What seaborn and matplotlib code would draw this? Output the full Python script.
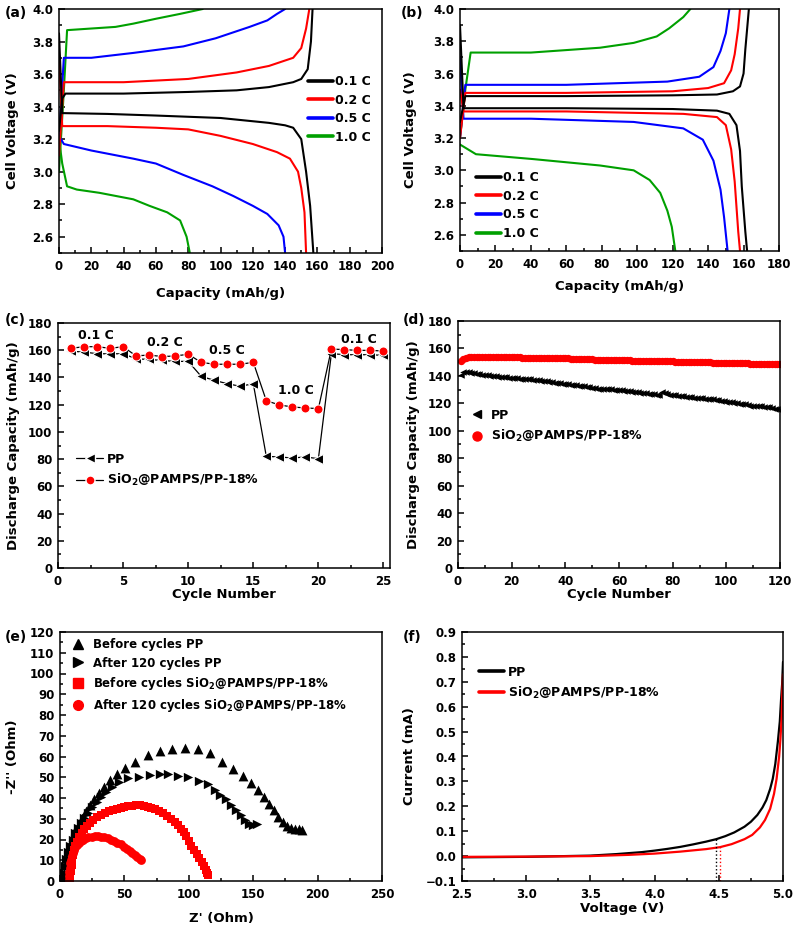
import matplotlib
matplotlib.use("Agg")
import matplotlib.pyplot as plt
from matplotlib.ticker import MultipleLocator
from matplotlib.lines import Line2D
import seaborn as sns

# ---------------- data ----------------
# (a) PP cell charge/discharge curves (capacity mAh/g, voltage V)
A01_CH_X = [0, 2, 4, 40, 80, 110, 130, 145, 150, 154, 156, 157]
A01_CH_Y = [3.25, 3.45, 3.48, 3.48, 3.49, 3.50, 3.52, 3.55, 3.57, 3.63, 3.8, 4.0]
A01_DC_X = [0, 2, 30, 60, 100, 130, 140, 145, 150, 153, 155.5, 157.5]
A01_DC_Y = [3.85, 3.36, 3.355, 3.345, 3.33, 3.30, 3.285, 3.27, 3.20, 3.0, 2.79, 2.5]
A02_CH_X = [0, 3, 40, 80, 110, 130, 145, 150, 153, 155]
A02_CH_Y = [3.1, 3.55, 3.55, 3.57, 3.61, 3.65, 3.70, 3.76, 3.88, 4.0]
A02_DC_X = [0, 2, 30, 60, 80, 100, 120, 135, 143, 148, 150, 152, 153]
A02_DC_Y = [3.7, 3.28, 3.28, 3.27, 3.26, 3.22, 3.17, 3.12, 3.08, 3.0, 2.9, 2.75, 2.5]
A05_CH_X = [0, 3, 20, 46, 77, 97, 118, 129, 135, 140]
A05_CH_Y = [3.2, 3.70, 3.70, 3.73, 3.77, 3.82, 3.89, 3.93, 3.97, 4.0]
A05_DC_X = [0, 3, 20, 46, 60, 77, 95, 108, 120, 129, 136, 139, 140]
A05_DC_Y = [3.22, 3.17, 3.13, 3.08, 3.05, 2.98, 2.91, 2.85, 2.79, 2.74, 2.67, 2.6, 2.5]
A10_CH_X = [0, 3, 5, 20, 35, 46, 60, 75, 89]
A10_CH_Y = [3.0, 3.5, 3.87, 3.88, 3.89, 3.91, 3.94, 3.97, 4.0]
A10_DC_X = [0, 2, 5, 11, 25, 46, 56, 67, 75, 79, 81]
A10_DC_Y = [3.2, 3.05, 2.91, 2.89, 2.87, 2.83, 2.79, 2.75, 2.70, 2.6, 2.5]

# (b) SiO2@PAMPS/PP-18% cell charge/discharge curves
B01_CH_X = [0, 3, 60, 120, 145, 154, 158, 160, 161, 163]
B01_CH_Y = [3.3, 3.46, 3.46, 3.465, 3.47, 3.49, 3.52, 3.60, 3.75, 4.0]
B01_DC_X = [0, 2, 60, 120, 145, 152, 156, 158, 159, 161, 162]
B01_DC_Y = [3.9, 3.385, 3.385, 3.38, 3.37, 3.35, 3.28, 3.12, 2.9, 2.62, 2.5]
B02_CH_X = [0, 3, 60, 120, 140, 149, 153, 155, 157, 158]
B02_CH_Y = [3.2, 3.48, 3.48, 3.49, 3.51, 3.54, 3.62, 3.72, 3.88, 4.0]
B02_DC_X = [0, 2, 60, 126, 145, 150, 153, 155, 157, 158]
B02_DC_Y = [3.5, 3.365, 3.365, 3.35, 3.33, 3.28, 3.13, 2.93, 2.62, 2.5]
B05_CH_X = [0, 3, 60, 117, 135, 143, 147, 150, 152]
B05_CH_Y = [3.2, 3.53, 3.53, 3.55, 3.58, 3.64, 3.74, 3.85, 4.0]
B05_DC_X = [0, 2, 40, 98, 126, 137, 143, 147, 149, 151]
B05_DC_Y = [3.7, 3.32, 3.32, 3.30, 3.26, 3.19, 3.06, 2.88, 2.71, 2.5]
B10_CH_X = [0, 3, 6, 40, 79, 98, 111, 118, 126, 130]
B10_CH_Y = [3.2, 3.5, 3.73, 3.73, 3.76, 3.79, 3.83, 3.88, 3.95, 4.0]
B10_DC_X = [0, 9, 41, 79, 98, 107, 113, 117, 119.5, 121.5]
B10_DC_Y = [3.16, 3.10, 3.07, 3.03, 3.0, 2.94, 2.86, 2.75, 2.65, 2.5]

RATES = ["0.1 C", "0.2 C", "0.5 C", "1.0 C"]
RATE_COLORS = ["#000000", "#ff0000", "#0000ff", "#00a000"]

# (c) rate capability
C_CYCLE = list(range(1, 26))
C_PP = [159.2, 158.7, 157.4, 157.4, 157.4, 153.7, 153.2, 152.5, 151.8, 151.8,
        140.8, 137.9, 135.4, 133.5, 135.4, 82.0, 81.6, 80.8, 81.6, 80.3,
        157.5, 156.7, 156.7, 156.7, 156.2]
C_SI = [161.4, 162.6, 162.6, 161.4, 162.6, 155.8, 156.5, 155.3, 155.8, 157.0,
        151.1, 149.7, 149.7, 149.7, 151.1, 122.9, 119.8, 118.3, 117.6, 117.1,
        160.9, 160.4, 159.9, 159.9, 159.4]
C_RATE_TEXT = ["0.1 C", "0.2 C", "0.5 C", "1.0 C", "0.1 C"]
C_RATE_X = [2.9, 8.2, 13.0, 18.25, 23.1]
C_RATE_Y = [170.6, 165.7, 159.5, 130.5, 167.8]

# (d) cycling at 0.5 C, 120 cycles
D_CYCLE = list(range(1, 121))
D_PP = [141.0, 142.5, 142.8, 142.6, 142.3, 142.0, 141.6, 141.2, 140.9, 140.6,
        140.3, 140.1, 139.8, 139.6, 139.5, 139.2, 139.0, 138.9, 138.7, 138.6,
        138.4, 138.2, 138.0, 137.9, 137.7, 137.5, 137.4, 137.2, 137.0, 136.8,
        136.6, 136.3, 136.0, 135.7, 135.4, 135.1, 134.8, 134.5, 134.2, 134.0,
        133.8, 133.5, 133.3, 133.0, 132.8, 132.6, 132.3, 132.0, 131.6, 131.2,
        130.9, 130.7, 130.6, 130.5, 130.4, 130.3, 130.2, 130.0, 129.8, 129.6,
        129.4, 129.2, 129.0, 128.7, 128.4, 128.2, 128.0, 127.8, 127.5, 127.2,
        127.0, 126.8, 126.5, 126.3, 126.2, 128.0, 127.3, 126.8, 126.4, 126.1,
        125.8, 125.5, 125.2, 125.0, 124.8, 124.6, 124.4, 124.2, 124.0, 123.8,
        123.6, 123.4, 123.2, 123.0, 122.8, 122.5, 122.2, 121.9, 121.6, 121.3,
        121.0, 120.7, 120.4, 120.1, 119.8, 119.5, 119.2, 118.8, 118.4, 118.1,
        118.0, 117.9, 117.8, 117.6, 117.4, 117.1, 116.7, 116.2, 115.6, 115.0]
D_SI = [150.5, 152.0, 153.0, 153.6, 153.9, 154.0, 154.0, 154.0, 153.9, 153.9,
        153.9, 153.8, 153.8, 153.8, 153.7, 153.7, 153.7, 153.6, 153.6, 153.6,
        153.5, 153.5, 153.5, 153.4, 153.4, 153.4, 153.3, 153.3, 153.3, 153.2,
        153.2, 153.1, 153.1, 153.0, 153.0, 152.9, 152.9, 152.8, 152.8, 152.7,
        152.7, 152.6, 152.6, 152.5, 152.5, 152.4, 152.3, 152.2, 152.1, 152.0,
        151.9, 151.9, 151.8, 151.8, 151.7, 151.7, 151.6, 151.6, 151.5, 151.5,
        151.4, 151.4, 151.3, 151.3, 151.2, 151.2, 151.1, 151.1, 151.0, 151.0,
        150.9, 150.9, 150.8, 150.8, 150.7, 150.7, 150.6, 150.6, 150.5, 150.5,
        150.4, 150.4, 150.3, 150.3, 150.2, 150.2, 150.1, 150.1, 150.0, 150.0,
        149.9, 149.9, 149.8, 149.8, 149.7, 149.7, 149.6, 149.6, 149.5, 149.5,
        149.4, 149.4, 149.3, 149.3, 149.2, 149.2, 149.1, 149.1, 149.0, 149.0,
        148.9, 148.9, 148.8, 148.8, 148.7, 148.7, 148.6, 148.6, 148.5, 148.4]

# (e) Nyquist plots (Z', -Z'')
E_PP_BEF_X = [2, 3, 4, 5, 6.5, 8, 10, 12, 14.5, 17, 20, 23, 26.5, 30, 34, 38.5, 44, 50.5,
              58.5, 68, 77.5, 87, 97, 107, 116.5, 125.5, 134, 142, 148.5, 154, 158.5,
              162.5, 166, 169.5, 173, 176.5, 179.5, 182.5, 185.5, 188]
E_PP_BEF_Y = [1, 4, 7.5, 11, 14.5, 18, 21.5, 24.5, 27.5, 30.5, 33.5, 36.5, 39.5, 42.5, 45.5,
              48.5, 51.5, 54.5, 57.5, 60.5, 62.5, 63.5, 64.3, 63.5, 61.5, 57.5, 54, 50.5,
              47, 44, 40.5, 37, 34, 31, 28.5, 26.5, 25.5, 25, 25, 24.5]
E_PP_AFT_X = [2, 3, 4, 5, 6.5, 8, 10, 12, 14, 16.5, 19, 22, 25, 28.5, 32, 36, 40.5, 45.5,
              53, 61.5, 70, 77.5, 84, 92, 99.5, 108, 115, 120, 124, 128.5, 132.5, 136.5,
              140.5, 144, 147, 150, 153]
E_PP_AFT_Y = [1, 4, 7, 10.5, 14, 17, 20, 23, 25.5, 28, 30.5, 33, 35.5, 38, 40.5, 43, 45.5,
              47.5, 49.5, 50.3, 51.1, 51.6, 51.6, 50.8, 50, 48.4, 46.8, 44, 41.5, 39.3,
              36.7, 34.3, 31.8, 29.5, 27.5, 27, 27.4]
E_SI_BEF_X = [8, 8, 8.5, 9, 9.5, 10, 11, 12, 13.5, 15, 17, 19, 21, 23.5, 26, 29, 32, 35,
              38, 41, 44, 47, 50, 53, 56, 59, 62, 65, 68, 71, 74, 77, 80, 83, 86, 89, 92,
              94, 96, 98, 100, 102, 104, 106, 108, 110, 111.5, 113, 114, 115]
E_SI_BEF_Y = [0.5, 2.5, 5, 7.5, 10, 12.5, 15, 17, 19, 21, 23, 25, 26.5, 28, 29.5, 30.8,
              31.8, 32.8, 33.6, 34.3, 34.9, 35.4, 35.8, 36.1, 36.3, 36.4, 36.4, 36.2, 35.8,
              35.2, 34.5, 33.6, 32.6, 31.4, 30, 28.5, 26.8, 25.2, 23.5, 21.5, 19.3, 17,
              15, 13, 11, 9, 7.2, 5.5, 4, 3]
E_SI_AFT_X = [7, 7, 7.3, 7.6, 8, 8.5, 9.2, 10, 11, 12, 13.5, 15, 16.5, 18, 20, 22, 24.5,
              27, 29.5, 32, 34.5, 37, 39.5, 42, 44.5, 47, 49.5, 52, 54, 56, 58, 60, 62, 63]
E_SI_AFT_Y = [0.5, 2.5, 4.5, 6.5, 8.5, 10.3, 12, 13.5, 15, 16.3, 17.5, 18.5, 19.3, 20,
              20.6, 21, 21.3, 21.5, 21.5, 21.3, 21, 20.6, 20, 19.3, 18.5, 17.6, 16.6,
              15.5, 14.5, 13.5, 12.5, 11.5, 10.5, 10]

# (f) linear sweep voltammetry
F_PP_V = [2.5, 3.0, 3.5, 3.7, 3.9, 4.0, 4.1, 4.2, 4.3, 4.4, 4.48, 4.55, 4.62, 4.7, 4.75,
          4.8, 4.84, 4.87, 4.9, 4.92, 4.94, 4.96, 4.975, 4.985, 4.993, 5.0]
F_PP_I = [-0.005, -0.003, 0.002, 0.008, 0.016, 0.022, 0.029, 0.037, 0.047, 0.058, 0.068,
          0.08, 0.095, 0.118, 0.138, 0.165, 0.195, 0.225, 0.27, 0.31, 0.37, 0.46, 0.54,
          0.63, 0.69, 0.78]
F_SI_V = [2.5, 3.0, 3.5, 3.8, 4.0, 4.2, 4.4, 4.51, 4.6, 4.7, 4.76, 4.82, 4.86, 4.9, 4.93,
          4.95, 4.97, 4.98, 4.99, 4.995, 5.0]
F_SI_I = [-0.003, -0.002, 0.0, 0.005, 0.01, 0.018, 0.028, 0.036, 0.048, 0.068, 0.085,
          0.115, 0.145, 0.19, 0.25, 0.31, 0.40, 0.47, 0.56, 0.66, 0.73]
F_ONSET_V = [4.48, 4.51]
F_ONSET_I = [0.068, 0.036]

SI_LABEL = r"SiO$_2$@PAMPS/PP-18%"

# ---------------- style ----------------
sns.set_style("ticks")
plt.rcParams.update({
    "font.family": ["DejaVu Sans"],
    "font.weight": "bold",
    "axes.labelweight": "bold",
    "mathtext.fontset": "dejavusans",
    "mathtext.default": "bf",
    "axes.linewidth": 1.1,
    "axes.edgecolor": "black",
    "xtick.color": "black",
    "ytick.color": "black",
    "text.color": "black",
    "axes.labelcolor": "black",
})

W, H = 795, 932
fig = plt.figure(figsize=(W / 100, H / 100), dpi=100)
fig.patch.set_facecolor("white")


def add_ax(box):
    l, t, r, b = box
    return fig.add_axes([l / W, 1 - b / H, (r - l) / W, (b - t) / H])


def style(ax, box, xmaj, xmin, ymaj, ymin, xl, yl, xtop, yright):
    ax.xaxis.set_major_locator(MultipleLocator(xmaj))
    ax.xaxis.set_minor_locator(MultipleLocator(xmin))
    ax.yaxis.set_major_locator(MultipleLocator(ymaj))
    ax.yaxis.set_minor_locator(MultipleLocator(ymin))
    ax.tick_params(which="both", direction="in", top=False, right=False,
                   labelsize=8.5, width=1.1, color="black")
    ax.tick_params(axis="x", which="both", pad=5)
    ax.tick_params(axis="y", which="both", pad=4)
    ax.tick_params(which="major", length=4.5)
    ax.tick_params(which="minor", length=2.5)
    for s in ax.spines.values():
        s.set_visible(True)
        s.set_linewidth(1.1)
    l, t, r, b = box
    ax.set_xlabel(xl, fontsize=9.5, fontweight="bold")
    ax.set_ylabel(yl, fontsize=9.5, fontweight="bold")
    ax.xaxis.set_label_coords(0.5, (b - xtop) / (b - t))
    ax.yaxis.set_label_coords((yright - l) / (r - l), 0.5)


def tag(x, y, s):
    fig.text(x / W, 1 - y / H, s, fontsize=10, fontweight="bold", va="top", ha="left")


def rate_legend(ax, anchor):
    handles = [Line2D([], [], color=c, lw=2.6) for c in RATE_COLORS]
    ax.legend(handles, RATES, loc="upper left", bbox_to_anchor=anchor, frameon=False,
              fontsize=9, borderpad=0, borderaxespad=0, handlelength=2.0,
              handletextpad=0.15, labelspacing=0.45)


# ---------------- (a) ----------------
BOX_A = (59, 9, 382, 253)
ax = add_ax(BOX_A)
a_curves = [(A10_CH_X, A10_CH_Y, A10_DC_X, A10_DC_Y, RATE_COLORS[3]),
            (A05_CH_X, A05_CH_Y, A05_DC_X, A05_DC_Y, RATE_COLORS[2]),
            (A02_CH_X, A02_CH_Y, A02_DC_X, A02_DC_Y, RATE_COLORS[1]),
            (A01_CH_X, A01_CH_Y, A01_DC_X, A01_DC_Y, RATE_COLORS[0])]
for cx, cy, dx, dy, col in a_curves:
    sns.lineplot(x=cx, y=cy, sort=False, estimator=None, color=col, lw=1.5, ax=ax)
    sns.lineplot(x=dx, y=dy, sort=False, estimator=None, color=col, lw=1.5, ax=ax)
ax.set_xlim(0, 200)
ax.set_ylim(2.5, 4.0)
style(ax, BOX_A, 20, 10, 0.2, 0.1, "Capacity (mAh/g)", "Cell Voltage (V)", 287, 19)
rate_legend(ax, (0.771, 0.73))
tag(5, 6, "(a)")

# ---------------- (b) ----------------
BOX_B = (460, 9, 779, 251)
ax = add_ax(BOX_B)
b_curves = [(B10_CH_X, B10_CH_Y, B10_DC_X, B10_DC_Y, RATE_COLORS[3]),
            (B05_CH_X, B05_CH_Y, B05_DC_X, B05_DC_Y, RATE_COLORS[2]),
            (B02_CH_X, B02_CH_Y, B02_DC_X, B02_DC_Y, RATE_COLORS[1]),
            (B01_CH_X, B01_CH_Y, B01_DC_X, B01_DC_Y, RATE_COLORS[0])]
for cx, cy, dx, dy, col in b_curves:
    sns.lineplot(x=cx, y=cy, sort=False, estimator=None, color=col, lw=1.5, ax=ax)
    sns.lineplot(x=dx, y=dy, sort=False, estimator=None, color=col, lw=1.5, ax=ax)
ax.set_xlim(0, 180)
ax.set_ylim(2.5, 4.0)
style(ax, BOX_B, 20, 10, 0.2, 0.1, "Capacity (mAh/g)", "Cell Voltage (V)", 280, 417)
rate_legend(ax, (0.05, 0.33))
tag(401, 6, "(b)")

# ---------------- (c) ----------------
BOX_C = (58, 323, 390, 568)
ax = add_ax(BOX_C)
sns.lineplot(x=C_CYCLE, y=C_PP, color="black", lw=0.9, marker="<", markersize=7,
             markerfacecolor="black", ax=ax)
sns.lineplot(x=C_CYCLE, y=C_SI, color="black", lw=0.9, marker="o", markersize=6.5,
             markerfacecolor="red", markeredgecolor="white", ax=ax)
for s, x, y in zip(C_RATE_TEXT, C_RATE_X, C_RATE_Y):
    ax.text(x, y, s, fontsize=9, fontweight="bold", ha="center", va="center")
ax.set_xlim(0, 25.5)
ax.set_ylim(0, 180)
style(ax, BOX_C, 5, 2.5, 20, 10, "Cycle Number", "Discharge Capacity (mAh/g)", 588, 20)
hc = [Line2D([], [], color="black", lw=0.9, marker="<", ms=7, mfc="black", mec="white"),
      Line2D([], [], color="black", lw=0.9, marker="o", ms=6.5, mfc="red", mec="white")]
ax.legend(hc, ["PP", SI_LABEL], loc="upper left", bbox_to_anchor=(0.054, 0.47),
          frameon=False, fontsize=9, borderpad=0, borderaxespad=0, handlelength=2.2,
          handletextpad=0.3, labelspacing=0.5)
tag(5, 313, "(c)")

# ---------------- (d) ----------------
BOX_D = (458, 321, 780, 568)
ax = add_ax(BOX_D)
sns.scatterplot(x=D_CYCLE, y=D_PP, marker="<", color="black", s=22, linewidth=0, ax=ax)
sns.scatterplot(x=D_CYCLE, y=D_SI, marker="o", color="red", s=28, linewidth=0, ax=ax)
ax.set_xlim(0, 120)
ax.set_ylim(0, 180)
style(ax, BOX_D, 20, 10, 20, 10, "Cycle Number", "Discharge Capacity (mAh/g)", 588, 420)
hd = [Line2D([], [], ls="none", marker="<", ms=6, color="black"),
      Line2D([], [], ls="none", marker="o", ms=6.5, color="red")]
ax.legend(hd, ["PP", SI_LABEL], loc="upper left", bbox_to_anchor=(0.035, 0.645),
          frameon=False, fontsize=9, borderpad=0, borderaxespad=0, handlelength=1.2,
          handletextpad=0.5, labelspacing=0.5)
tag(403, 313, "(d)")

# ---------------- (e) ----------------
BOX_E = (60, 632, 382, 881)
ax = add_ax(BOX_E)
sns.scatterplot(x=E_PP_BEF_X, y=E_PP_BEF_Y, marker="^", color="black", s=50, linewidth=0, ax=ax)
sns.scatterplot(x=E_PP_AFT_X, y=E_PP_AFT_Y, marker=">", color="black", s=45, linewidth=0, ax=ax)
sns.scatterplot(x=E_SI_BEF_X, y=E_SI_BEF_Y, marker="s", color="red", s=28, linewidth=0, ax=ax)
sns.scatterplot(x=E_SI_AFT_X, y=E_SI_AFT_Y, marker="o", color="red", s=40, linewidth=0, ax=ax)
ax.set_xlim(0, 250)
ax.set_ylim(0, 120)
style(ax, BOX_E, 50, 25, 10, 5, "Z' (Ohm)", "-Z'' (Ohm)", 912, 19)
he = [Line2D([], [], ls="none", marker="^", ms=7.5, color="black"),
      Line2D([], [], ls="none", marker=">", ms=7.5, color="black"),
      Line2D([], [], ls="none", marker="s", ms=6.5, color="red"),
      Line2D([], [], ls="none", marker="o", ms=7, color="red")]
ax.legend(he, ["Before cycles PP", "After 120 cycles PP", "Before cycles " + SI_LABEL,
               "After 120 cycles " + SI_LABEL],
          loc="upper left", bbox_to_anchor=(0.035, 0.975), frameon=False, fontsize=8.5,
          borderpad=0, borderaxespad=0, handlelength=1.2, handletextpad=0.6,
          labelspacing=0.45)
tag(5, 630, "(e)")

# ---------------- (f) ----------------
BOX_F = (462, 632, 783, 881)
ax = add_ax(BOX_F)
sns.lineplot(x=F_PP_V, y=F_PP_I, sort=False, estimator=None, color="black", lw=1.6, ax=ax)
sns.lineplot(x=F_SI_V, y=F_SI_I, sort=False, estimator=None, color="red", lw=1.6, ax=ax)
ax.vlines(F_ONSET_V, -0.1, F_ONSET_I, colors=["black", "red"], linestyles=":", lw=1.0)
ax.set_xlim(2.5, 5.0)
ax.set_ylim(-0.1, 0.9)
style(ax, BOX_F, 0.5, 0.25, 0.1, 0.05, "Voltage (V)", "Current (mA)", 902, 416)
hf = [Line2D([], [], color="black", lw=2.6), Line2D([], [], color="red", lw=2.6)]
ax.legend(hf, ["PP", SI_LABEL], loc="upper left", bbox_to_anchor=(0.053, 0.865),
          frameon=False, fontsize=9, borderpad=0, borderaxespad=0, handlelength=2.0,
          handletextpad=0.3, labelspacing=0.5)
tag(403, 630, "(f)")

fig.savefig("out.png", dpi=100, facecolor="white")
